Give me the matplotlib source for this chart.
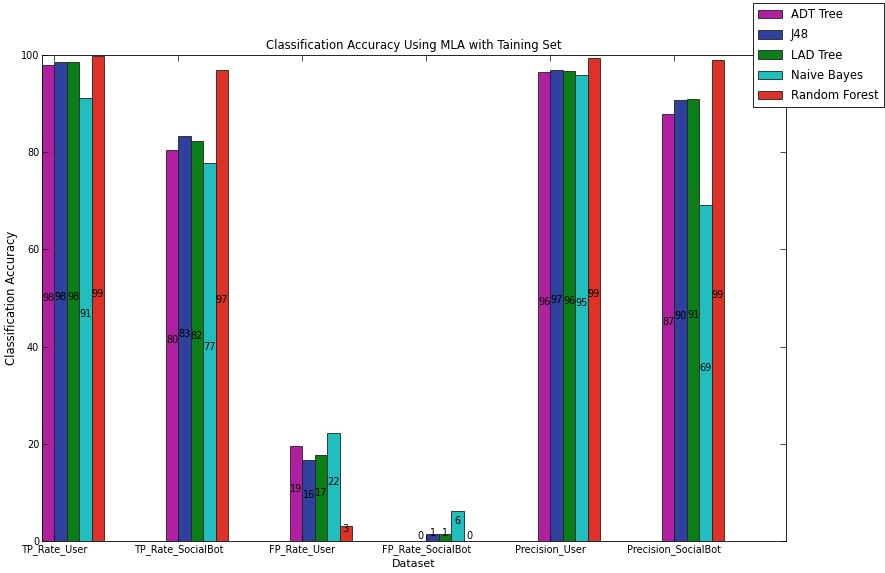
import numpy as np
import matplotlib
matplotlib.use("Agg")
import matplotlib.pyplot as plt

# Metrics for each dataset split
categories = ["TP_Rate_User", "TP_Rate_SocialBot", "FP_Rate_User",
              "FP_Rate_SocialBot", "Precision_User", "Precision_SocialBot"]

adt_tree = [98.0, 80.5, 19.5, 0.1, 96.5, 87.9]
j48 = [98.5, 83.3, 16.7, 1.4, 97.0, 90.7]
lad_tree = [98.5, 82.4, 17.6, 1.4, 96.7, 91.0]
naive_bayes = [91.2, 77.8, 22.2, 6.2, 95.9, 69.1]
random_forest = [99.7, 97.0, 3.0, 0.1, 99.4, 99.0]

series_names = ["ADT Tree", "J48", "LAD Tree", "Naive Bayes", "Random Forest"]
series_values = [adt_tree, j48, lad_tree, naive_bayes, random_forest]
colors = ["#b01f9f", "#2f409f", "#0a7f18", "#20bebe", "#df3226"]

fig = plt.figure(figsize=(8.85, 5.73), dpi=100)
ax = fig.add_axes([42 / 885, 32 / 573, (786 - 42) / 885, (541 - 55) / 573])

ind = np.arange(len(categories))
width = 0.1

handles = []
for i, (name, vals, col) in enumerate(zip(series_names, series_values, colors)):
    rects = ax.bar(ind + i * width, vals, width, align="edge", color=col,
                   edgecolor="#222222", linewidth=0.6, label=name)
    handles.append(rects)
    for r in rects:
        h = r.get_height()
        ax.text(r.get_x() + r.get_width() / 2.0, h / 2.0, "%d" % int(h + 1e-9),
                ha="center", va="bottom", fontsize=7, color="black")

ax.set_xlim(0, 6)
ax.set_ylim(0, 100)
ax.set_xticks(ind + width)
ax.set_xticklabels(categories, fontsize=7)
ax.set_yticks(np.arange(0, 101, 20))
ax.tick_params(axis="y", labelsize=7)
ax.tick_params(direction="in", top=True, right=True, length=4, width=0.5, pad=2)
for s in ax.spines.values():
    s.set_linewidth(0.6)

ax.set_title("Classification Accuracy Using MLA with Taining Set", fontsize=8.4, pad=4)
ax.set_xlabel("Dataset", fontsize=8.0)
ax.set_ylabel("Classification Accuracy", fontsize=8.4)
ax.xaxis.set_label_coords(0.5, -0.037)
ax.yaxis.set_label_coords(-0.032, 0.5)

leg = fig.legend(handles=handles, labels=series_names, loc="upper right",
                 bbox_to_anchor=(884 / 885, 570 / 573), fontsize=8.4, fancybox=False,
                 framealpha=1, edgecolor="black", borderpad=0.45,
                 handlelength=2.0, handleheight=0.75, labelspacing=0.62,
                 handletextpad=0.8, borderaxespad=0.0)
leg.get_frame().set_linewidth(0.6)

fig.savefig("out.png", dpi=100, facecolor="white")
